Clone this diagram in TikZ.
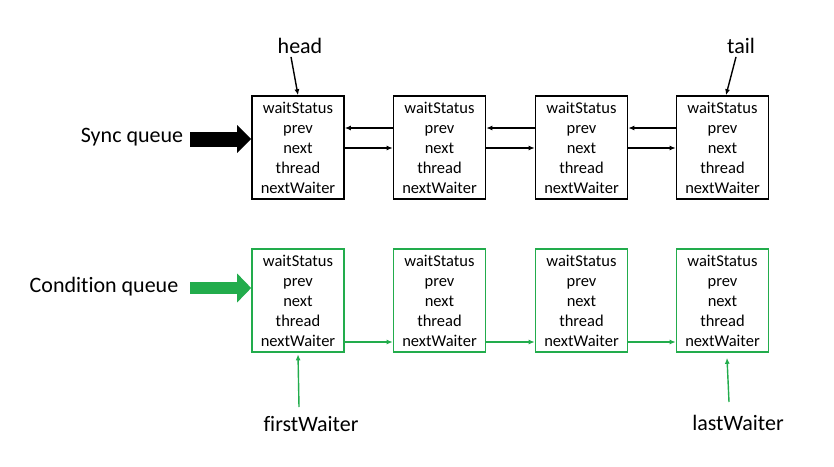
\documentclass[tikz,border=0pt]{standalone}
\usepackage{fontspec}
\setmainfont{Carlito}[Ligatures=CommonOff]
\usetikzlibrary{arrows.meta}
\definecolor{qgreen}{RGB}{34,172,76}
\begin{document}
\begin{tikzpicture}[x=1pt,y=-1pt,
  nodebox/.style={draw, line width=1.6pt, minimum width=92pt, minimum height=103pt, inner sep=0pt, align=center,
    font=\fontsize{16.5}{20}\selectfont},
  greenbox/.style={nodebox, draw=qgreen},
  lbl/.style={font=\fontsize{22}{24}\selectfont, inner sep=0pt},
  link/.style={line width=1.4pt, -{Latex[length=6pt,width=5pt]}},
  glink/.style={link, draw=qgreen, -{Latex[length=6pt,width=5pt]}, qgreen},
  bigarrow/.style={line width=15pt, -{Triangle[length=14pt,width=27pt]}}
]
\useasboundingbox (0,0) rectangle (834,466);
\def\fields{waitStatus\\prev\\next\\thread\\nextWaiter}
% sync queue
\node[nodebox] (s1) at (298,147.5) {\fields};
\node[nodebox] (s2) at (439.5,147.5) {\fields};
\node[nodebox] (s3) at (581.5,147.5) {\fields};
\node[nodebox] (s4) at (722.5,147.5) {\fields};
% condition queue
\node[greenbox] (c1) at (298,300.5) {\fields};
\node[greenbox] (c2) at (439.5,300.5) {\fields};
\node[greenbox] (c3) at (581.5,300.5) {\fields};
\node[greenbox] (c4) at (722.5,300.5) {\fields};
% labels
\node[lbl] (sync) at (132,137) {Sync queue};
\node[lbl] (cond) at (104,287) {Condition queue};
\node[lbl] (head) at (300,46) {head};
\node[lbl] (tail) at (741,46) {tail};
\node[lbl] (first) at (311,424) {firstWaiter};
\node[lbl] (last) at (738,423) {lastWaiter};
% big arrows
\coordinate (sa) at (190,139);
\coordinate (ca) at (190,288);
\draw[bigarrow] (sa) -- (s1.west |- sa);
\draw[bigarrow, draw=qgreen, line width=12pt, -{Triangle[length=14pt,width=28pt]}, qgreen] (ca) -- (c1.west |- ca);
% head / tail pointers
\draw[link] (head.south) ++(-9,3) coordinate (h0) (h0) -- (s1.north);
\draw[link] (tail.south) ++(-5,3) coordinate (t0) (t0) -- ([xshift=3.5pt]s4.north);
% prev / next links
\foreach \a/\b in {s1/s2,s2/s3,s3/s4}{
  \draw[link] (\b.west |- 0,128) -- (\a.east |- 0,128);
  \draw[link] (\a.east |- 0,148) -- (\b.west |- 0,148);
}
% nextWaiter links
\foreach \a/\b in {c1/c2,c2/c3,c3/c4}{
  \draw[glink] (\a.east |- 0,342) -- (\b.west |- 0,342);
}
% firstWaiter / lastWaiter pointers
\coordinate (f0) at (299,407);
\coordinate (l0) at (729,402);
\draw[glink] (f0) -- ([yshift=-1.5pt]c1.south);
\draw[glink] (l0) -- ([xshift=4.5pt,yshift=-5pt]c4.south);
\end{tikzpicture}
\end{document}
